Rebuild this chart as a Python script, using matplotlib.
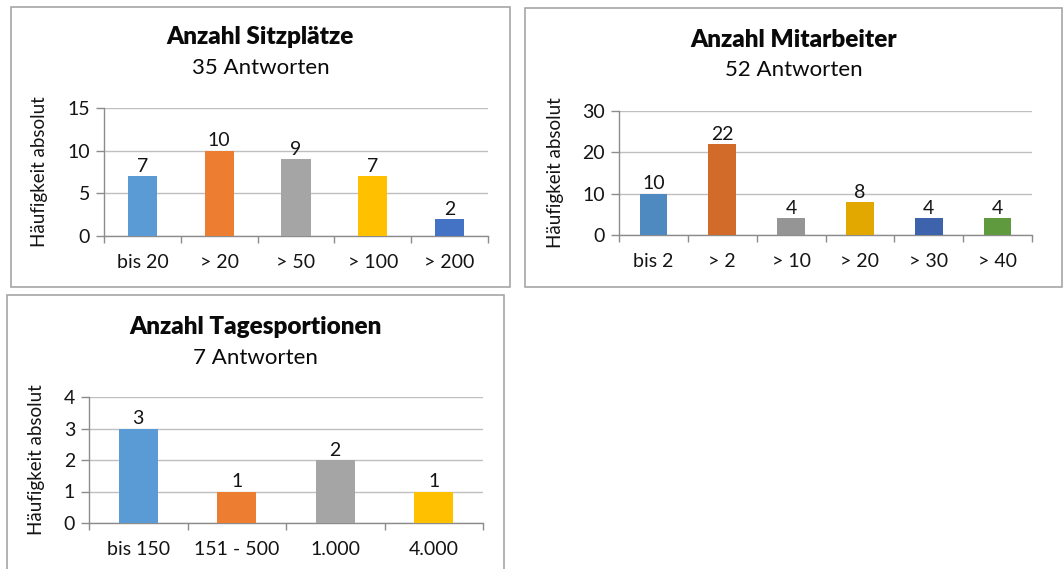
import matplotlib
matplotlib.use("Agg")
import matplotlib.pyplot as plt
from matplotlib.patches import Rectangle

plt.rcParams['font.family'] = ['Lato', 'DejaVu Sans']

W, H = 1064, 569

# Data
cat1 = ["bis 20", "> 20", "> 50", "> 100", "> 200"]
val1 = [7, 10, 9, 7, 2]
col1 = ["#5B9BD5", "#ED7D31", "#A5A5A5", "#FFC000", "#4472C4"]
title1 = "Anzahl Sitzplätze"
sub1 = "35 Antworten"
ymax1, ystep1 = 15, 5

cat2 = ["bis 2", "> 2", "> 10", "> 20", "> 30", "> 40"]
val2 = [10, 22, 4, 8, 4, 4]
col2 = ["#4E8AC0", "#D26B2A", "#959595", "#E2A800", "#3C63AC", "#5F9A3E"]
title2 = "Anzahl Mitarbeiter"
sub2 = "52 Antworten"
ymax2, ystep2 = 30, 10

cat3 = ["bis 150", "151 - 500", "1.000", "4.000"]
val3 = [3, 1, 2, 1]
col3 = ["#5B9BD5", "#ED7D31", "#A5A5A5", "#FFC000"]
title3 = "Anzahl Tagesportionen"
sub3 = "7 Antworten"
ymax3, ystep3 = 4, 1

ylabel = "Häufigkeit absolut"

fig = plt.figure(figsize=(W / 100, H / 100), dpi=100)


def px_rect(l, t, r, b):
    return [l / W, 1 - b / H, (r - l) / W, (b - t) / H]


def box(l, t, r, b):
    fig.patches.append(Rectangle((l / W, 1 - b / H), (r - l) / W, (b - t) / H,
                                 transform=fig.transFigure, fill=False,
                                 edgecolor="#A6A6A6", linewidth=1.2))


def panel(axpx, boxpx, cats, vals, cols, title, sub, ymax, ystep, width,
          title_y, sub_y, ylab_x):
    ax = fig.add_axes(px_rect(*axpx))
    n = len(cats)
    x = list(range(n))
    bars = ax.bar(x, vals, width=width, color=cols, zorder=3)
    ax.set_xlim(-0.5, n - 0.5)
    ax.set_ylim(0, ymax)
    ax.set_yticks(range(0, ymax + 1, ystep))
    ax.yaxis.grid(True, color="#BFBFBF", linewidth=1.0, zorder=0)
    ax.set_axisbelow(True)
    for s in ["top", "right"]:
        ax.spines[s].set_visible(False)
    for s in ["left", "bottom"]:
        ax.spines[s].set_color("#8C8C8C")
        ax.spines[s].set_linewidth(1.0)
    ax.set_xticks(x)
    ax.set_xticklabels(cats)
    ax.set_xticks([i - 0.5 for i in range(n + 1)], minor=True)
    ax.tick_params(axis="x", which="major", length=0, pad=13, labelsize=14,
                   labelcolor="#141414")
    ax.tick_params(axis="x", which="minor", length=5, color="#8C8C8C", width=1.0)
    ax.tick_params(axis="y", length=6, color="#8C8C8C", width=1.0, pad=4,
                   labelsize=14, labelcolor="#141414")
    ax.bar_label(bars, labels=[str(v) for v in vals], padding=1, fontsize=14,
                 color="#141414")
    l, t, r, b = boxpx
    cx = (l + r) / 2
    fig.text(cx / W, 1 - title_y / H, title, ha="center", va="center",
             fontsize=17.5, fontweight="heavy", color="#0A0A0A")
    fig.text(cx / W, 1 - sub_y / H, sub, ha="center", va="center",
             fontsize=16, color="#0A0A0A")
    yc = (axpx[1] + axpx[3]) / 2
    fig.text(ylab_x / W, 1 - yc / H, ylabel, rotation=90, ha="center",
             va="center", fontsize=13.5, color="#141414")
    box(*boxpx)
    return ax


panel((104, 108, 488, 236), (11, 7, 510, 287), cat1, val1, col1, title1, sub1,
      ymax1, ystep1, 0.38, 37, 68, 40)
panel((619, 111, 1032, 235), (525, 8, 1062, 287), cat2, val2, col2, title2,
      sub2, ymax2, ystep2, 0.40, 40, 70, 555)
panel((89, 397, 483, 523), (7, 295, 504, 580), cat3, val3, col3, title3, sub3,
      ymax3, ystep3, 0.40, 327, 358, 37)

fig.savefig("out.png", dpi=100, facecolor="white")
